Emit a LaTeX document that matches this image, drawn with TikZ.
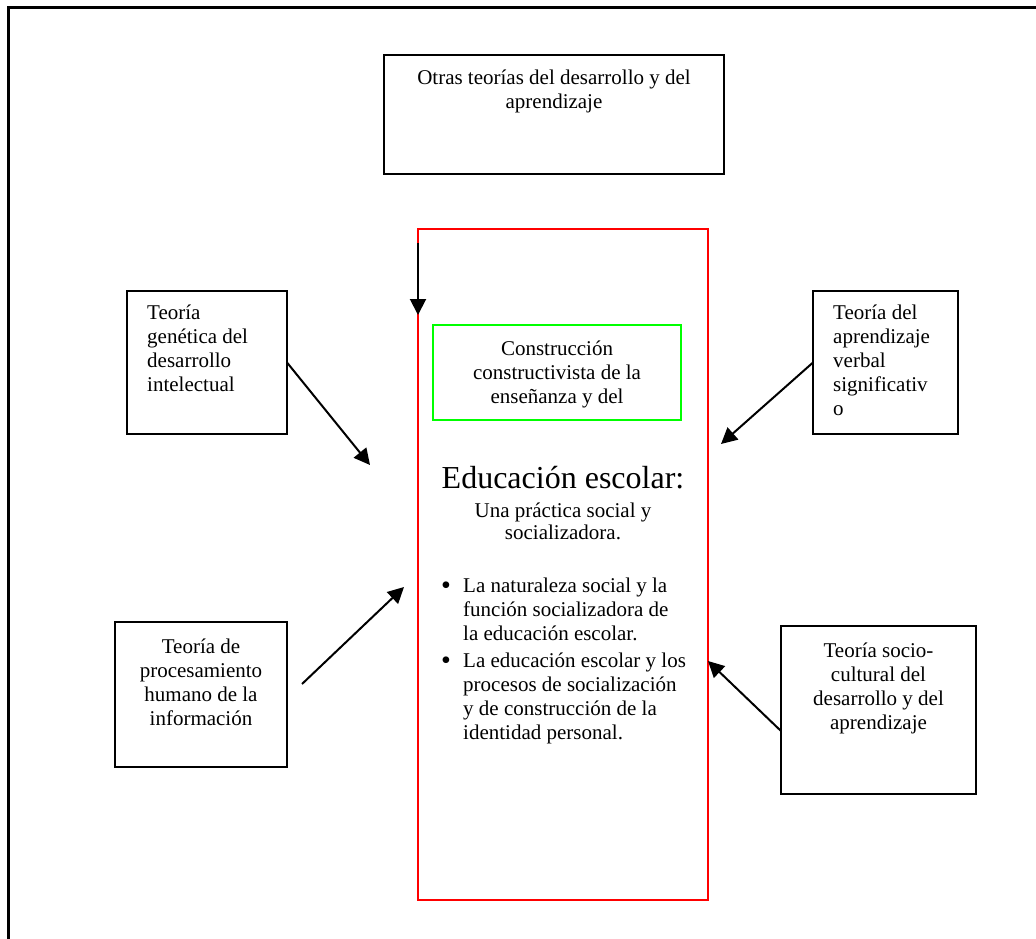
\documentclass[tikz,border=0pt]{standalone}
\usepackage{fontspec}
\setmainfont{Liberation Serif}
\usetikzlibrary{arrows.meta}
\definecolor{framered}{RGB}{255,0,0}
\definecolor{framegreen}{RGB}{0,255,0}
\tikzset{
  box/.style={draw=black, line width=2pt, rectangle, inner sep=0pt, outer sep=0pt, anchor=north west},
  txt/.style={inner sep=0pt, font=\fontsize{21}{24}\selectfont, anchor=base},
  dot/.style={inner sep=0pt, font=\fontsize{28}{28}\selectfont, anchor=base},
  link/.style={line width=2pt, -{Triangle[length=16pt,width=16pt]}},
}
\begin{document}
\begin{tikzpicture}[x=1pt, y=-1pt]
\useasboundingbox (0,0) rectangle (1036,939);
% page frame, only its top and left sides
\draw[line width=2.2pt, black] (8.5,939) -- (8.5,7.5) -- (1036,7.5);

% boxes
\node[box, minimum width=340pt, minimum height=119pt] (otras) at (384,55) {};
\node[box, draw=framered, minimum width=290pt, minimum height=671pt] (centro) at (418,229) {};
\node[box, draw=framegreen, minimum width=248pt, minimum height=95pt] (constr) at (433,325) {};
\node[box, minimum width=160pt, minimum height=143pt] (genetica) at (127,291) {};
\node[box, minimum width=145pt, minimum height=143pt] (verbal) at (813,291) {};
\node[box, minimum width=172pt, minimum height=145pt] (procesa) at (115,622) {};
\node[box, minimum width=195pt, minimum height=168pt] (socio) at (781,626) {};

% texts (each placed by the baseline of its last line)
\node[txt, align=center] (t-otras) at (554,109) {Otras teorías del desarrollo y del\\aprendizaje};
\node[txt, align=center] (t-constr) at (557,403) {Construcción\\constructivista de la\\enseñanza y del};
\node[txt, align=left, anchor=base west] (t-genetica) at (147,391) {Teoría\\genética del\\desarrollo\\intelectual};
\node[txt, align=left, anchor=base west] (t-verbal) at (833,415) {Teoría del\\aprendizaje\\verbal\\significativ\\o};
\node[txt, align=center] (t-procesa) at (201,725) {Teoría de\\procesamiento\\humano de la\\información};
\node[txt, align=center] (t-socio) at (878.5,729) {Teoría socio-\\cultural del\\desarrollo y del\\aprendizaje};

\node[txt, font=\fontsize{32}{36}\selectfont] (titulo) at (563,488) {Educación escolar:};
\node[txt, align=center, font=\fontsize{21}{22}\selectfont] (subtitulo) at (563,539) {Una práctica social y\\socializadora.};

\node[dot] (bala1) at (446,594) {•};
\node[txt, align=left, anchor=base west] (item1) at (463,640) {La naturaleza social y la\\función socializadora de\\la educación escolar.};
\node[dot] (bala2) at (446,669) {•};
\node[txt, align=left, anchor=base west] (item2) at (463,739) {La educación escolar y los\\procesos de socialización\\y de construcción de la\\identidad personal.};

% connectors
\coordinate (p1) at (370,465);
\coordinate (p2) at (721,444);
\coordinate (p3) at (302,684);
\coordinate (p4) at (404,587);
\draw[link] (genetica.east) -- (p1);
\draw[link] (verbal.west) -- (p2);
\draw[link] (p3) -- (p4);
\draw[link] ([yshift=-21pt]socio.west) -- ([yshift=49pt]centro.east |- socio.west);
\draw[link] ([yshift=-14pt]centro.north west) -- ([yshift=-86pt]centro.north west);
\end{tikzpicture}
\end{document}
